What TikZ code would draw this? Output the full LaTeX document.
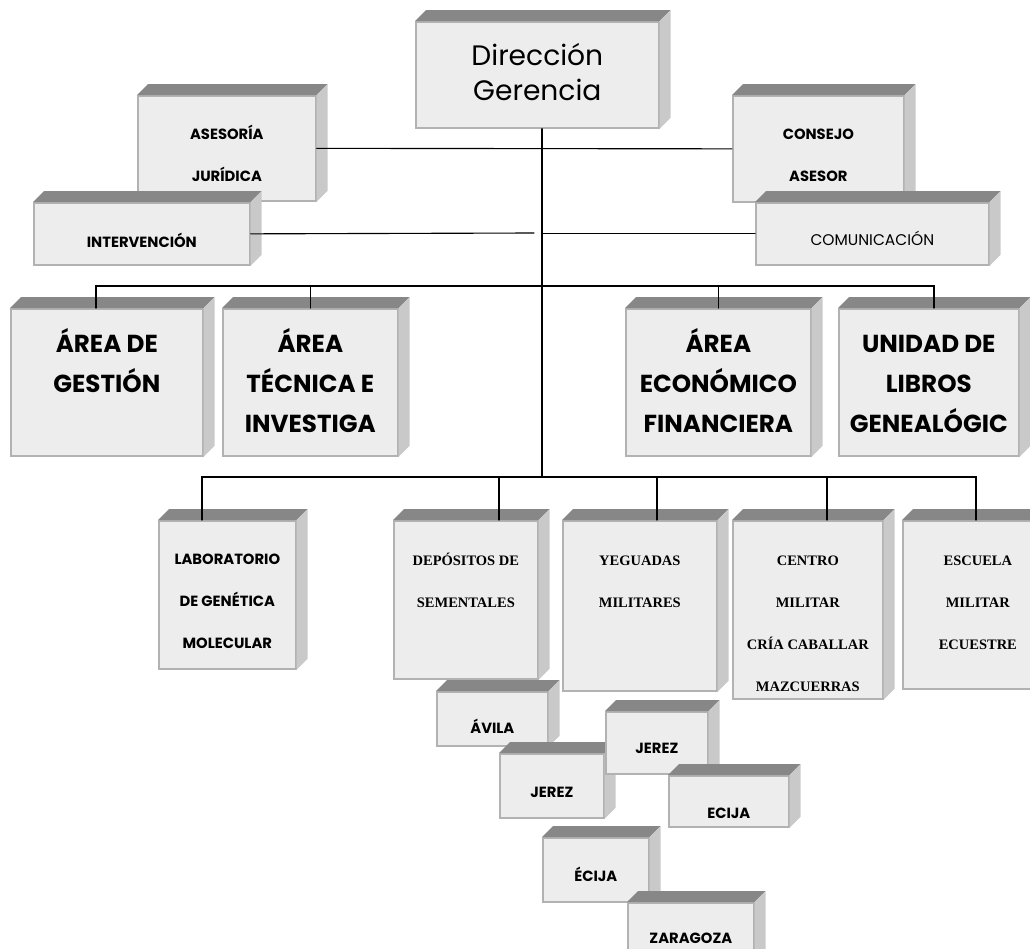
\documentclass[tikz,border=0pt]{standalone}
\usepackage{fontspec}
\setmainfont{Poppins}
\newfontfamily\serifa{Liberation Serif}

% side and top faces of a box
\newcommand{\caras}[1]{%
  \fill[caraarriba] (#1.north west) -- ++(11,-11) -- ([shift={(11,-11)}]#1.north east) -- (#1.north east) -- cycle;
  \fill[caralado] (#1.north east) -- ++(11,-11) -- ([shift={(11,-11)}]#1.south east) -- (#1.south east) -- cycle;}
% fixed height of the first line
\newcommand{\alto}{\rule{0pt}{24pt}}

\begin{document}
\begin{tikzpicture}
[x=0.025cm,y=-0.025cm,line cap=round,
% Styles
caja/.style 2 args={draw=bordecaja,fill=frentecaja,line width=1.2pt,inner sep=0pt,
  anchor=north west,minimum width=#1*0.025cm,minimum height=#2*0.025cm},
rotulo/.style={anchor=north,yshift=24pt,inner sep=0pt,align=center},
titulo/.style={rotulo,font=\fontsize{20}{25}\selectfont},
grande/.style={rotulo,font=\bfseries\fontsize{17.5}{28.5}\selectfont},
chica/.style={rotulo,font=\bfseries\fontsize{10.5}{30}\selectfont},
normal/.style={rotulo,font=\fontsize{11}{30}\selectfont},
romana/.style={rotulo,font=\serifa\bfseries\fontsize{10.3}{30}\selectfont},
conector/.style={line width=0.8pt}]
% Colors
\definecolor{frentecaja}{HTML}{EDEDED}
\definecolor{bordecaja}{HTML}{B2B2B2}
\definecolor{caraarriba}{HTML}{878787}
\definecolor{caralado}{HTML}{C9C9C9}
\useasboundingbox (0,0) rectangle (1030,948);
\clip (0,0) rectangle (1030,948);
% Top
\node[caja={243}{106}] (dir) at (415,21) {}; \caras{dir}
\node[titulo] (dir-t) at ([shift={(0,44)}]dir.north) {\alto Dirección\\Gerencia};
\node[caja={178}{105}] (ase) at (137,95) {}; \caras{ase}
\node[chica] (ase-t) at ([shift={(0,44)}]ase.north) {\alto ASESORÍA\\JURÍDICA};
\node[caja={216}{62}] (int) at (33,202) {}; \caras{int}
\node[chica] (int-t) at ([shift={(0,45)}]int.north) {\alto INTERVENCIÓN};
\node[caja={171}{106}] (cons) at (732,95) {}; \caras{cons}
\node[chica] (cons-t) at ([shift={(0,44)}]cons.north) {\alto CONSEJO\\ASESOR};
\node[caja={233}{62}] (com) at (755,202) {}; \caras{com}
\node[normal] (com-t) at ([shift={(0,43)}]com.north) {\alto COMUNICACIÓN};
% Areas
\node[caja={192}{147}] (ag) at (10,308) {}; \caras{ag}
\node[grande] (ag-t) at ([shift={(0,44)}]ag.north) {\alto ÁREA DE\\GESTIÓN};
\node[caja={175}{147}] (at) at (222,308) {}; \caras{at}
\node[grande] (at-t) at ([shift={(0,44)}]at.north) {\alto ÁREA\\TÉCNICA E\\INVESTIGA};
\node[caja={185}{147}] (ae) at (625,308) {}; \caras{ae}
\node[grande] (ae-t) at ([shift={(0,44)}]ae.north) {\alto ÁREA\\ECONÓMICO\\FINANCIERA};
\node[caja={180}{147}] (ul) at (838,308) {}; \caras{ul}
\node[grande] (ul-t) at ([shift={(0,44)}]ul.north) {\alto UNIDAD DE\\LIBROS\\GENEALÓGIC};
% Centres
\node[caja={137}{148}] (lab) at (158,520) {}; \caras{lab}
\node[chica] (lab-t) at ([shift={(0,44)}]lab.north) {\alto LABORATORIO\\DE GENÉTICA\\MOLECULAR};
\node[caja={144}{158}] (dep) at (393,520) {}; \caras{dep}
\node[romana] (dep-t) at ([shift={(0,45)}]dep.north) {\alto DEPÓSITOS DE\\SEMENTALES};
\node[caja={154}{170}] (yeg) at (562,520) {}; \caras{yeg}
\node[romana] (yeg-t) at ([shift={(0,45)}]yeg.north) {\alto YEGUADAS\\MILITARES};
\node[caja={150}{178}] (cen) at (732,520) {}; \caras{cen}
\node[romana] (cen-t) at ([shift={(0,45)}]cen.north) {\alto CENTRO\\MILITAR\\CRÍA CABALLAR\\MAZCUERRAS};
\node[caja={150}{168}] (esc) at (902,520) {}; \caras{esc}
\node[romana] (esc-t) at ([shift={(0,45)}]esc.north) {\alto ESCUELA\\MILITAR\\ECUESTRE};
% Depots
\node[caja={111}{54}] (avi) at (436,691) {}; \caras{avi}
\node[chica] (avi-t) at ([shift={(0,42)}]avi.north) {\alto ÁVILA};
\node[caja={104}{64}] (jer) at (499,753) {}; \caras{jer}
\node[chica] (jer-t) at ([shift={(0,44)}]jer.north) {\alto JEREZ};
\node[caja={102}{62}] (jerb) at (605,711) {}; \caras{jerb}
\node[chica] (jerb-t) at ([shift={(0,42)}]jerb.north) {\alto JEREZ};
\node[caja={120}{51}] (ecib) at (668,775) {}; \caras{ecib}
\node[chica] (ecib-t) at ([shift={(0,43)}]ecib.north) {\alto ECIJA};
\node[caja={106}{64}] (eci) at (542,837) {}; \caras{eci}
\node[chica] (eci-t) at ([shift={(0,44)}]eci.north) {\alto ÉCIJA};
\node[caja={126}{65}] (zar) at (627,902) {}; \caras{zar}
\node[chica] (zar-t) at ([shift={(0,41)}]zar.north) {\alto ZARAGOZA};
% Lines
\coordinate (b2) at (542,286);
\coordinate (b1) at (542,477);
\coordinate (fin-int) at (534,233);
\begin{scope}[conector]
\draw (dir.south -| b1) -- (b1);
\draw (ase.east) -- (cons.west);
\draw (int.east) -- (fin-int);
\draw (b1 |- com.west) -- (com.west);
\draw ([shift={(86,0)}]ag.north west) |- (b2);
\draw ([shift={(96,0)}]ul.north west) |- (b2);
\foreach \n in {at,ae}
  \draw (\n.north) |- (b2);
\foreach \n/\d in {lab/44,dep/106,yeg/95,cen/95,esc/74}
  \draw ([shift={(\d,0)}]\n.north west) |- (b1);
\end{scope}
\end{tikzpicture}
\end{document}
